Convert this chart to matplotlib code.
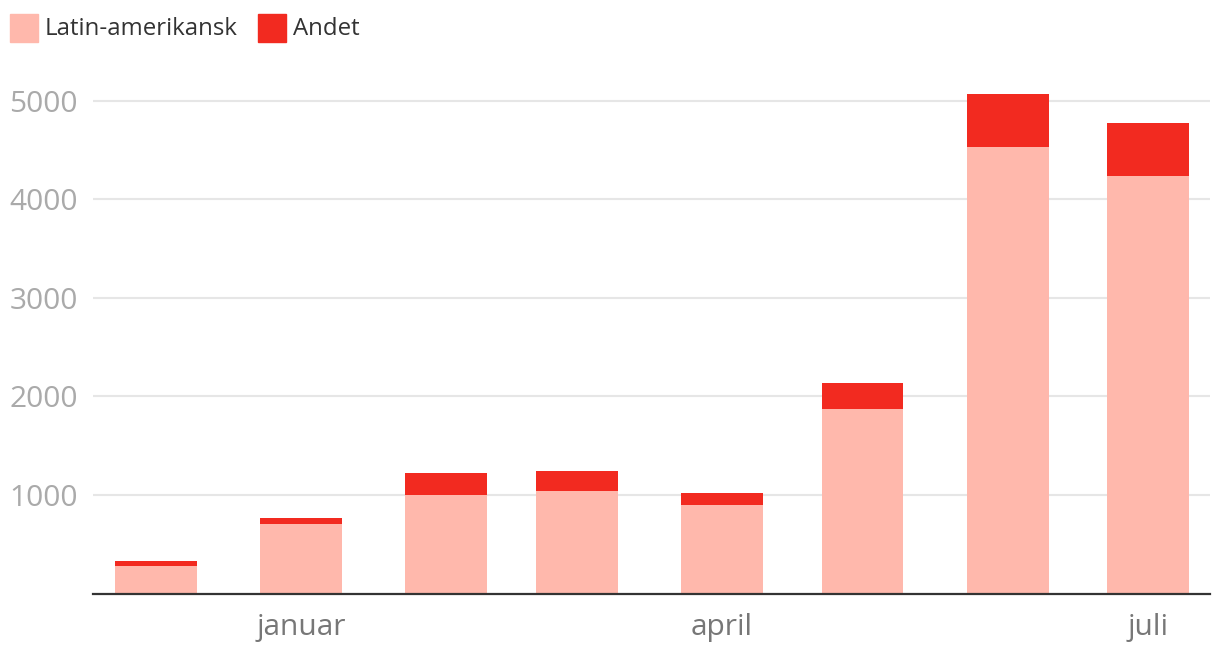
import matplotlib
matplotlib.use("Agg")
import matplotlib.pyplot as plt
import matplotlib.dates as mdates
from matplotlib.patches import Rectangle
import datetime as dt

plt.rcParams['font.family'] = ['Open Sans', 'DejaVu Sans']

# monthly counts, bars centred on the first of each month
months = ["2017-12-01", "2018-01-01", "2018-02-01", "2018-03-01",
          "2018-04-01", "2018-05-01", "2018-06-01", "2018-07-01"]
latin = [285, 710, 1000, 1045, 895, 1875, 4530, 4235]
andet = [45, 60, 220, 195, 130, 265, 540, 540]
series_names = ["Latin-amerikansk", "Andet"]
tick_months = ["2018-01-01", "2018-04-01", "2018-07-01"]
tick_labels = ["januar", "april", "juli"]
y_ticks = [1000, 2000, 3000, 4000, 5000]

pink = "#ffb8ac"
red = "#f22a20"

x = [mdates.date2num(dt.date.fromisoformat(m)) for m in months]

fig = plt.figure(figsize=(12.2, 6.56), dpi=100)
ax = fig.add_axes([0.0762, 0.0951, 0.9156, 0.8113])

ax.bar(x, latin, width=17.5, color=pink, zorder=2)
ax.bar(x, andet, width=17.5, bottom=latin, color=red, zorder=2)

ax.set_xlim(x[0] - 13.46, x[-1] + 13.25)
ax.set_ylim(0, 5400)

ax.set_yticks(y_ticks)
ax.set_yticklabels([str(v) for v in y_ticks])
ax.grid(axis='y', color="#e6e6e6", linewidth=1.5, zorder=0)
ax.set_axisbelow(True)

ax.set_xticks([mdates.date2num(dt.date.fromisoformat(m)) for m in tick_months])
ax.set_xticklabels(tick_labels)

for s in ['top', 'right', 'left']:
    ax.spines[s].set_visible(False)
ax.spines['bottom'].set_color("#333333")
ax.spines['bottom'].set_linewidth(1.6)
ax.spines['bottom'].set_zorder(3)

ax.tick_params(axis='y', length=0, pad=11, labelsize=21.5, labelcolor="#aaaaaa")
ax.tick_params(axis='x', length=0, pad=14, labelsize=21.5, labelcolor="#777777")

# legend drawn by hand at the top left
W, H = 1220, 656
legend_items = [(10, 45, series_names[0], pink), (258, 293, series_names[1], red)]
for sx, tx, name, col in legend_items:
    fig.patches.append(Rectangle((sx / W, 1 - 42 / H), 28 / W, 28 / H,
                                 transform=fig.transFigure, color=col))
    fig.text(tx / W, 1 - 29 / H, name, fontsize=17.3, color="#333333",
             va='center', ha='left')

plt.savefig("out.png", dpi=100)
